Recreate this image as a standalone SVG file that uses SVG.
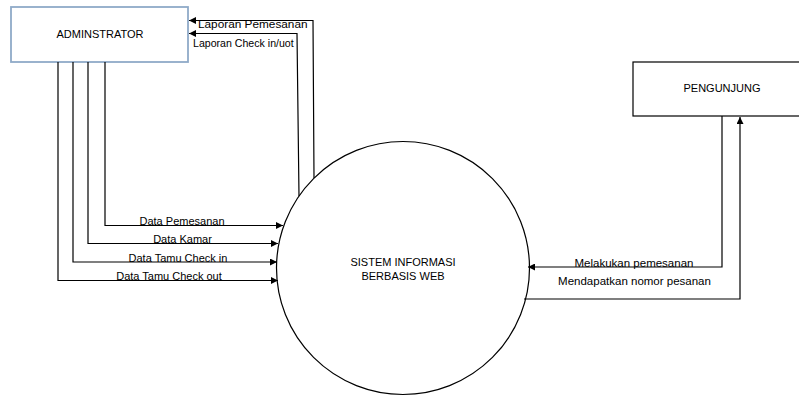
<svg xmlns="http://www.w3.org/2000/svg" width="799" height="396" viewBox="0 0 799 396">
  <defs>
    <marker id="arr" markerUnits="userSpaceOnUse" markerWidth="7" markerHeight="7" viewBox="0 0 7 7" refX="7" refY="3.5" orient="auto">
      <path d="M0,0 L7,3.5 L0,7 Z" fill="#000"/>
    </marker>
  </defs>
  <style>
    text { font-family: "Liberation Sans", Arial, sans-serif; font-size: 11px; fill: #000; }
    .flow { fill: none; stroke: #000; stroke-width: 1.2; }
  </style>
  <rect x="0" y="0" width="799" height="396" fill="#fff"/>

  <g id="adminstrator">
    <rect x="11" y="7" width="177" height="55" fill="#fff" stroke="#8FAAC8" stroke-width="1.8"/>
    <text x="100" y="38" text-anchor="middle">ADMINSTRATOR</text>
  </g>

  <g id="pengunjung">
    <rect x="633" y="62" width="180" height="54" fill="#fff" stroke="#000" stroke-width="1.2"/>
    <text x="722" y="92" text-anchor="middle">PENGUNJUNG</text>
  </g>

  <g id="sistem">
    <circle cx="403" cy="268" r="126.5" fill="#fff" stroke="#000" stroke-width="1.2"/>
    <text x="403" y="266" text-anchor="middle">SISTEM INFORMASI</text>
    <text x="403" y="280" text-anchor="middle">BERBASIS WEB</text>
  </g>

  <g id="connectors">
    <polyline class="flow" points="105,62 105,225.5 283,225.5" marker-end="url(#arr)"/>
    <polyline class="flow" points="88,62 88,243.5 278,243.5" marker-end="url(#arr)"/>
    <polyline class="flow" points="73,62 73,262 277,262" marker-end="url(#arr)"/>
    <polyline class="flow" points="58,62 58,280.5 278,280.5" marker-end="url(#arr)"/>
    <polyline class="flow" points="314,178 313,20.5 189,20.5" marker-end="url(#arr)"/>
    <polyline class="flow" points="299,196 297,33.5 189,33.5" marker-end="url(#arr)"/>
    <polyline class="flow" points="722,116 722,267 528,267" marker-end="url(#arr)"/>
    <polyline class="flow" points="524,299 740,299 740,117" marker-end="url(#arr)"/>

    <text x="182" y="224.5" text-anchor="middle">Data Pemesanan</text>
    <text x="182.5" y="242.5" text-anchor="middle">Data Kamar</text>
    <text x="178" y="261.5" text-anchor="middle">Data Tamu Check in</text>
    <text x="169" y="279.5" text-anchor="middle">Data Tamu Check out</text>
    <text x="198" y="28" style="font-size:11.8px">Laporan Pemesanan</text>
    <text x="193" y="47" style="font-size:10.6px">Laporan Check in/uot</text>
    <text x="634" y="266.5" text-anchor="middle" style="font-size:11.5px">Melakukan pemesanan</text>
    <text x="634.5" y="285" text-anchor="middle" style="font-size:11.5px">Mendapatkan nomor pesanan</text>
  </g>
</svg>
